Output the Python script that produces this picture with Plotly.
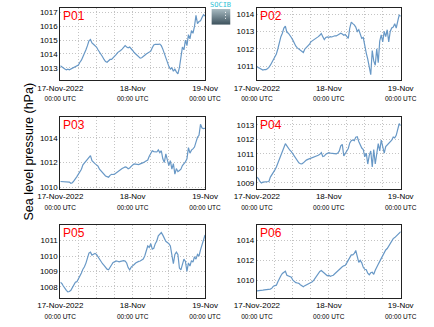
import base64
import pandas as pd
import plotly.graph_objects as go

# ---------------- data (30-min sampling, 17-Nov-2022 00:00 .. 19-Nov-2022 00:00 UTC) -------------
times = pd.date_range("2022-11-17 00:00", periods=97, freq="30min")

panel_names = ["P01", "P02", "P03", "P04", "P05", "P06"]

slp_p01 = [1013.15, 1013.05, 1012.95, 1012.9, 1012.85, 1012.9, 1012.85, 1012.9, 1012.95, 1013.0,
           1013.1, 1013.15, 1013.2, 1013.4, 1013.55, 1013.8, 1014.0, 1014.3, 1014.6, 1014.95,
           1015.05, 1014.8, 1014.7, 1014.6, 1014.5, 1014.3, 1014.15, 1013.95, 1013.8, 1013.6,
           1013.45, 1013.4, 1013.5, 1013.6, 1013.6, 1013.7, 1013.85, 1013.95, 1014.1, 1014.15,
           1014.25, 1014.35, 1014.5, 1014.6, 1014.5, 1014.45, 1014.5, 1014.4, 1014.25, 1014.1,
           1014.0, 1013.9, 1013.8, 1013.7, 1013.72, 1013.78, 1013.9, 1014.0, 1014.05, 1014.1,
           1014.2, 1014.45, 1014.65, 1014.7, 1014.68, 1014.7, 1014.72, 1014.6, 1014.35, 1014.0,
           1013.75, 1013.4, 1013.1, 1012.9, 1013.0, 1012.75, 1012.9, 1012.7, 1012.55, 1013.0,
           1013.9, 1014.5, 1014.3, 1015.0, 1014.6, 1015.4, 1015.1, 1015.7, 1015.5, 1016.0,
           1016.8, 1016.2, 1016.35, 1016.4, 1016.65, 1016.85, 1016.75]

slp_p02 = [1010.96, 1010.9, 1010.85, 1010.8, 1010.77, 1010.8, 1010.8, 1010.85, 1010.92, 1011.05,
           1011.2, 1011.35, 1011.5, 1011.7, 1012.0, 1012.45, 1012.7, 1012.9, 1013.2, 1013.3,
           1012.95, 1012.9, 1012.8, 1012.65, 1012.5, 1012.3, 1012.15, 1012.05, 1011.97, 1011.9,
           1011.82, 1011.78, 1011.98, 1012.08, 1012.12, 1012.25, 1012.4, 1012.45, 1012.5, 1012.55,
           1012.62, 1012.7, 1012.78, 1012.88, 1012.7, 1012.53, 1012.65, 1012.68, 1012.66, 1012.7,
           1012.68, 1012.72, 1012.75, 1012.74, 1012.8, 1012.82, 1012.9, 1012.85, 1012.78, 1012.82,
           1012.7, 1012.6, 1013.2, 1013.54, 1013.45, 1013.38, 1013.25, 1013.0, 1013.1, 1012.9,
           1012.6, 1012.65, 1012.1, 1011.75, 1011.4, 1010.95, 1010.5, 1011.9, 1011.3, 1011.05,
           1012.0, 1011.2, 1012.45, 1012.8, 1012.4, 1013.0, 1012.7, 1013.1, 1012.4, 1013.0,
           1013.2, 1013.25, 1013.45, 1013.2, 1013.67, 1013.96, 1013.87]

slp_p03 = [1010.45, 1010.45, 1010.45, 1010.45, 1010.43, 1010.45, 1010.4, 1010.3, 1010.35, 1010.5,
           1010.65, 1010.85, 1011.05, 1011.25, 1011.45, 1011.8, 1011.95, 1012.1, 1012.25, 1012.45,
           1012.55, 1012.15, 1012.0, 1011.9, 1011.8, 1011.7, 1011.45, 1011.3, 1011.15, 1011.05,
           1010.9, 1010.85, 1010.8, 1010.95, 1011.03, 1011.02, 1011.05, 1011.15, 1011.25, 1011.35,
           1011.45, 1011.5, 1011.57, 1011.63, 1011.6, 1011.48, 1011.55, 1011.7, 1011.8, 1011.88,
           1011.85, 1011.8, 1011.83, 1011.88, 1011.9, 1011.98, 1012.05, 1012.12, 1012.2, 1012.5,
           1012.75, 1012.95, 1012.88, 1012.85, 1012.85, 1013.02, 1012.8, 1012.95, 1012.3, 1012.0,
           1012.7, 1012.2, 1011.75, 1012.15, 1011.45, 1011.9, 1011.05, 1011.5, 1011.25, 1011.35,
           1011.45, 1011.75, 1011.9, 1012.05, 1012.3, 1013.2, 1012.75, 1013.0, 1013.1, 1013.25,
           1013.65, 1014.05, 1014.2, 1015.1, 1014.8, 1014.75, 1014.78]

slp_p04 = [1009.4, 1009.3, 1009.1, 1009.0, 1009.05, 1009.07, 1009.1, 1009.1, 1009.1, 1009.4,
           1009.55, 1009.68, 1009.9, 1010.1, 1010.36, 1010.65, 1010.92, 1011.2, 1011.42, 1011.7,
           1011.55, 1011.37, 1011.25, 1011.15, 1011.0, 1010.8, 1010.65, 1010.5, 1010.38, 1010.32,
           1010.31, 1010.38, 1010.5, 1010.57, 1010.62, 1010.66, 1010.7, 1010.74, 1010.78, 1010.8,
           1010.82, 1010.9, 1010.97, 1011.08, 1010.82, 1010.85, 1010.98, 1011.05, 1011.08, 1011.05,
           1011.04, 1011.02, 1011.0, 1011.0, 1011.05, 1011.2, 1011.55, 1011.65, 1010.85, 1011.03,
           1011.25, 1011.37, 1011.75, 1011.9, 1011.95, 1011.9, 1012.15, 1012.18, 1011.85, 1011.6,
           1011.4, 1011.3, 1010.8, 1011.05, 1010.3, 1010.9, 1011.2, 1010.1, 1011.3, 1010.3,
           1011.0, 1011.7, 1011.2, 1011.94, 1011.5, 1011.05, 1011.5, 1011.6, 1011.7, 1011.82,
           1011.94, 1012.16, 1012.1, 1012.27, 1012.6, 1013.07, 1012.95]

slp_p05 = [1008.3, 1008.22, 1008.06, 1007.9, 1007.78, 1007.68, 1007.7, 1007.78, 1007.95, 1008.2,
           1008.3, 1008.34, 1008.5, 1008.75, 1008.9, 1009.15, 1009.3, 1009.54, 1009.8, 1010.19,
           1010.25, 1010.06, 1010.12, 1010.17, 1010.1, 1009.93, 1009.75, 1009.6, 1009.5, 1009.4,
           1009.25, 1009.15, 1009.11, 1009.3, 1009.45, 1009.58, 1009.62, 1009.68, 1009.66, 1009.62,
           1009.65, 1009.7, 1009.7, 1009.67, 1009.55, 1009.25, 1009.1, 1009.28, 1009.4, 1009.45,
           1009.55, 1009.63, 1009.65, 1009.68, 1009.72, 1009.8, 1010.0, 1010.35, 1010.65, 1010.55,
           1010.8, 1010.45, 1010.5, 1010.8, 1010.97, 1011.3, 1011.45, 1011.52, 1011.35, 1011.1,
           1010.95, 1010.88, 1010.8, 1010.65, 1010.1, 1009.5, 1010.1, 1010.25, 1010.1, 1009.22,
           1009.1, 1009.5, 1009.8, 1009.65, 1009.0, 1009.55, 1009.35, 1009.7, 1009.6, 1009.95,
           1009.8, 1010.1, 1010.0, 1010.4, 1010.72, 1011.15, 1011.36]

slp_p06 = [1008.93, 1008.93, 1008.95, 1008.98, 1009.0, 1009.03, 1009.05, 1009.0, 1009.02, 1009.1,
           1009.2, 1009.4, 1009.45, 1009.5, 1009.85, 1010.2, 1010.45, 1010.68, 1010.8, 1010.9,
           1010.5, 1010.43, 1010.38, 1010.3, 1010.0, 1009.85, 1009.75, 1009.72, 1009.68, 1009.55,
           1009.4, 1009.33, 1009.45, 1009.52, 1009.57, 1009.65, 1009.73, 1009.85, 1010.0, 1010.25,
           1010.5, 1010.7, 1010.88, 1010.98, 1010.85, 1010.75, 1010.6, 1010.45, 1010.5, 1010.4,
           1010.45, 1010.5, 1010.65, 1010.8, 1011.0, 1011.15, 1011.25, 1011.35, 1011.45, 1011.5,
           1011.75, 1012.0, 1012.33, 1012.55, 1012.55, 1012.7, 1013.0, 1012.5, 1011.8, 1012.0,
           1011.75, 1011.3, 1011.1, 1011.05, 1010.7, 1010.55, 1010.75, 1010.8, 1010.6, 1011.0,
           1011.25, 1011.6, 1011.9, 1012.2, 1012.6, 1012.9, 1013.05, 1013.2, 1013.45, 1013.65,
           1013.85, 1014.2, 1014.3, 1014.45, 1014.7, 1014.85, 1014.9]

series = [slp_p01, slp_p02, slp_p03, slp_p04, slp_p05, slp_p06]

tick_dates = ["2022-11-17", "2022-11-18", "2022-11-19"]
tick_day_labels = ["17-Nov-2022", "18-Nov", "19-Nov"]
tick_hour_label = "00:00 UTC"
y_title = "Sea level pressure (hPa)"
logo_text = "SOCIB"

# ---------------- layout settings ----------------
W, H = 434, 327
FONT = "Liberation Sans"
LINE_COLOR = "#6898c6"
GRID_COLOR = "#c4c4c4"
GRID_DASH = "1px,2px"

x_domains = [[41 / W, 200 / W], [257 / W, 415 / W]]
y_domains = [[1 - 81 / H, 1 - 8 / H], [1 - 190.5 / H, 1 - 118 / H], [1 - 300.5 / H, 1 - 227.5 / H]]
y_ranges = [[1012.09, 1017.34], [1010.18, 1014.36], [1009.86, 1015.7],
            [1008.6, 1013.54], [1007.3, 1011.98], [1008.23, 1015.53]]
y_dticks = [1, 1, 2, 1, 1, 2]

ticktext = [f"{d}<br><span style='font-size:6.5px'>{tick_hour_label}</span>" for d in tick_day_labels]

fig = go.Figure()
layout = dict(
    width=W, height=H, margin=dict(l=0, r=0, t=0, b=0),
    paper_bgcolor="white", plot_bgcolor="white", showlegend=False,
    font=dict(family=FONT, size=8, color="black"),
    annotations=[], images=[], shapes=[],
)

for i, (name, vals) in enumerate(zip(panel_names, series)):
    row, col = divmod(i, 2)
    xa = "x" if i == 0 else f"x{i + 1}"
    ya = "y" if i == 0 else f"y{i + 1}"
    fig.add_trace(go.Scatter(x=times, y=vals, mode="lines", xaxis=xa, yaxis=ya,
                             line=dict(color=LINE_COLOR, width=1.2), hoverinfo="skip"))
    xkey = "xaxis" if i == 0 else f"xaxis{i + 1}"
    ykey = "yaxis" if i == 0 else f"yaxis{i + 1}"
    layout[xkey] = dict(
        domain=x_domains[col], anchor=ya, type="date",
        range=["2022-11-17 00:00", "2022-11-19 00:00"],
        tickmode="array", tickvals=tick_dates, ticktext=ticktext,
        tickfont=dict(size=8, family=FONT, color="black"),
        showline=True, mirror=True, linecolor="#222", linewidth=1,
        showgrid=True, gridcolor=GRID_COLOR, griddash=GRID_DASH, gridwidth=1,
        ticks="", zeroline=False,
        minor=dict(tickmode="linear", tick0="2022-11-17", dtick=6 * 3600 * 1000,
                   showgrid=True, gridcolor=GRID_COLOR, griddash=GRID_DASH, gridwidth=1),
    )
    layout[ykey] = dict(
        domain=y_domains[row], anchor=xa, range=y_ranges[i],
        tickmode="linear", tick0=1000, dtick=y_dticks[i],
        tickfont=dict(size=8, family=FONT, color="black"),
        showline=True, mirror=True, linecolor="#222", linewidth=1,
        showgrid=True, gridcolor=GRID_COLOR, griddash=GRID_DASH, gridwidth=1,
        ticks="", zeroline=False,
    )
    layout["annotations"].append(dict(
        text=name, xref=f"{xa} domain", yref=f"{ya} domain", x=0, y=1,
        xanchor="left", yanchor="top", xshift=1, yshift=1, showarrow=False,
        font=dict(color="red", size=12, family=FONT),
    ))

layout["annotations"].append(dict(
    text=y_title, xref="paper", yref="paper", x=6.5 / W, y=1 - 153 / H,
    xanchor="center", yanchor="middle", textangle=-90, showarrow=False,
    font=dict(size=12.5, family=FONT, color="black"),
))

# small logo: caption text + gradient badge
layout["annotations"].append(dict(
    text=logo_text, xref="paper", yref="paper", x=217.5 / W, y=1 - 5.5 / H,
    xanchor="center", yanchor="middle", showarrow=False,
    font=dict(size=7, family="DejaVu Sans Mono", color="#2ec2d6"),
))
svg = ("<svg xmlns='http://www.w3.org/2000/svg' width='21' height='16'>"
       "<defs><linearGradient id='g' x1='0' y1='0' x2='0' y2='1'>"
       "<stop offset='0' stop-color='#a9bcc3'/><stop offset='1' stop-color='#3b505b'/>"
       "</linearGradient></defs><rect x='0' y='0' width='21' height='16' fill='url(#g)'/>"
       "<line x1='15.5' y1='3' x2='15.5' y2='11' stroke='white' stroke-width='1' stroke-dasharray='1,2'/></svg>")
layout["images"].append(dict(
    source="data:image/svg+xml;base64," + base64.b64encode(svg.encode()).decode(),
    xref="paper", yref="paper", x=207 / W, y=1 - 9 / H, sizex=21 / W, sizey=16 / H,
    xanchor="left", yanchor="top", sizing="stretch", layer="above",
))

fig.update_layout(**layout)
fig.write_html("out.html")
